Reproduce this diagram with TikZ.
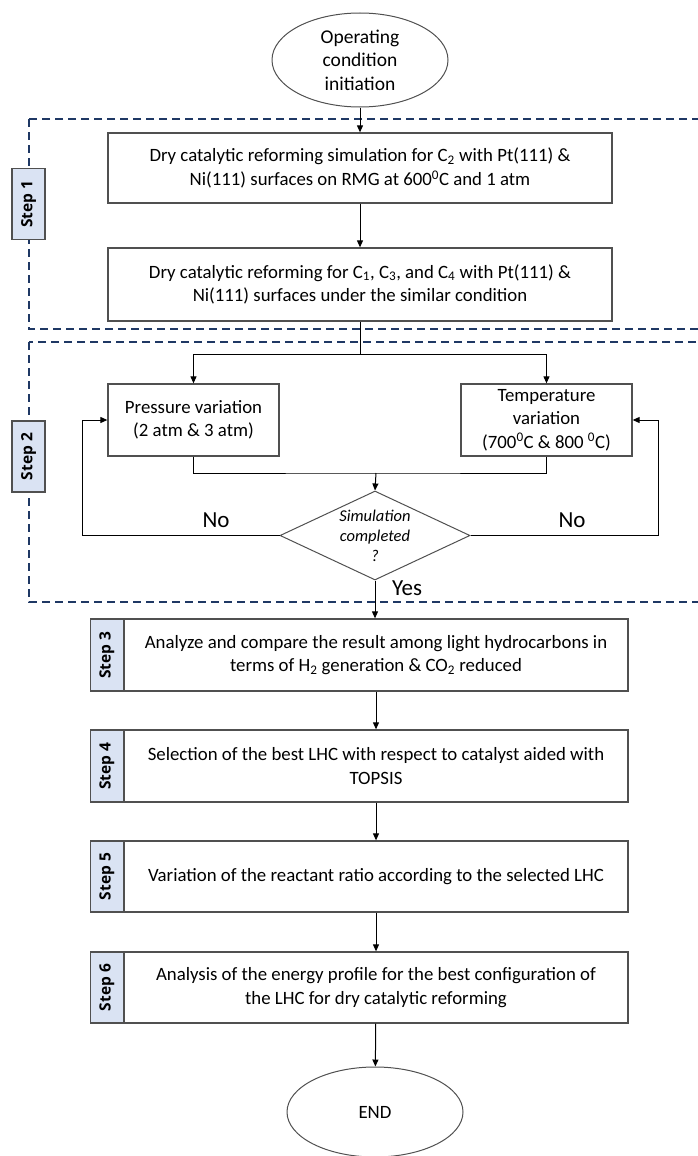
\documentclass[tikz,border=0pt]{standalone}
\usepackage{fontspec}
\setmainfont{Carlito}
\newfontfamily\tagfont{Open Sans}
\usetikzlibrary{arrows.meta,shapes.geometric,positioning}
\definecolor{frameblue}{HTML}{1F3864}
\definecolor{tagfill}{HTML}{DAE3F3}
\definecolor{boxline}{HTML}{505050}

\begin{document}
\begin{tikzpicture}[x=1pt,y=-1pt,
  every node/.style={font=\fontsize{18.8}{23.5}\selectfont},
  box/.style={draw=boxline,line width=1.3pt,minimum width=504pt,minimum height=72pt,align=center,inner sep=0pt},
  smallbox/.style={box,minimum width=171pt},
  terminal/.style={ellipse,draw=boxline,line width=1pt,minimum width=176pt,inner sep=0pt,align=center},
  tag/.style={draw=boxline,line width=1.2pt,fill=tagfill,rotate=90,minimum width=71pt,minimum height=33pt,inner sep=0pt,font=\tagfont\bfseries\fontsize{15.5}{18}\selectfont},
  frame/.style={draw=frameblue,line width=1.8pt,dash pattern=on 8pt off 5pt},
  conn/.style={line width=1pt,-{Triangle[length=7pt,width=6pt]}},
  answer/.style={font=\fontsize{23}{27}\selectfont}]
\useasboundingbox (0,0) rectangle (697,1156);

% step frames
\draw[frame] (29,119) rectangle (720,329);
\draw[frame] (29,342) rectangle (720,602);

\node[terminal,minimum height=94pt,font=\fontsize{19.5}{23.5}\selectfont] (start) at (360,60) {Operating\\condition\\initiation};
\node[box,minimum height=70pt] (sim) at (360,168) {Dry catalytic reforming simulation for C\textsubscript{2} with Pt(111) \&\\Ni(111) surfaces on RMG at 600\textsuperscript{0}C and 1 atm};
\node[box,minimum height=73pt] (others) at (360,284.5) {Dry catalytic reforming for C\textsubscript{1}, C\textsubscript{3}, and C\textsubscript{4} with Pt(111) \&\\Ni(111) surfaces under the similar condition};
\node[smallbox] (press) at (193.5,420) {Pressure variation\\(2 atm \& 3 atm)};
\node[smallbox] (temp) at (546.5,420) {Temperature\\variation\\(700\textsuperscript{0}C \& 800 \textsuperscript{0}C)};
\node[diamond,draw=boxline,line width=1pt,minimum width=190pt,minimum height=89pt,inner sep=0pt] (check) at (375,535.5) {};
\node[font=\itshape\fontsize{16.5}{20}\selectfont,align=center] (checktext) at (check) {Simulation\\completed\\?};

\node[box] (compare) at (376,655) {Analyze and compare the result among light hydrocarbons in\\terms of H\textsubscript{2} generation \& CO\textsubscript{2} reduced};
\node[box] (select) at (376,766) {Selection of the best LHC with respect to catalyst aided with\\TOPSIS};
\node[box,minimum height=71pt] (ratio) at (376,876.5) {Variation of the reactant ratio according to the selected LHC};
\node[box,minimum height=71pt] (energy) at (376,987.5) {Analysis of the energy profile for the best configuration of\\the LHC for dry catalytic reforming};
\node[terminal,minimum height=90pt] (end) at (375,1112) {END};

% step tags
\node[tag] (tag1) at (28.5,204) {Step 1};
\node[tag] (tag2) at (28.5,456.5) {Step 2};
\node[tag,minimum width=72pt] (tag3) at ([xshift=-16.5pt]compare.west) {Step 3};
\node[tag,minimum width=72pt] (tag4) at ([xshift=-16.5pt]select.west) {Step 4};
\node[tag] (tag5) at ([xshift=-16.5pt]ratio.west) {Step 5};
\node[tag] (tag6) at ([xshift=-16.5pt]energy.west) {Step 6};

% connectors
\coordinate (fork) at (360,354);
\coordinate (merge) at (376,473);
\draw[conn] (start) -- (sim);
\draw[conn] (sim) -- (others);
\draw[line width=1pt] (others.south) -- (fork);
\draw[conn] (fork) -| (press.north);
\draw[conn] (fork) -| (temp.north);
\draw[line width=1pt] (press.south) |- (merge) -| (temp.south);
\draw[conn] (merge) -- (check.north);
\draw[conn] (check.west) -| ([xshift=-25pt]press.west) -- (press.west);
\draw[conn] (check.east) -| ([xshift=26pt]temp.east) -- (temp.east);
\draw[conn] (check.south) -- (compare.north -| check.south);
\draw[conn] (compare) -- (select);
\draw[conn] (select) -- (ratio);
\draw[conn] (ratio) -- (energy);
\draw[conn] (energy) -- (end);

\node[answer] (noleft) at (216,520) {No};
\node[answer] (noright) at (572,520) {No};
\node[answer] (yes) at (407,588) {Yes};
\end{tikzpicture}
\end{document}
